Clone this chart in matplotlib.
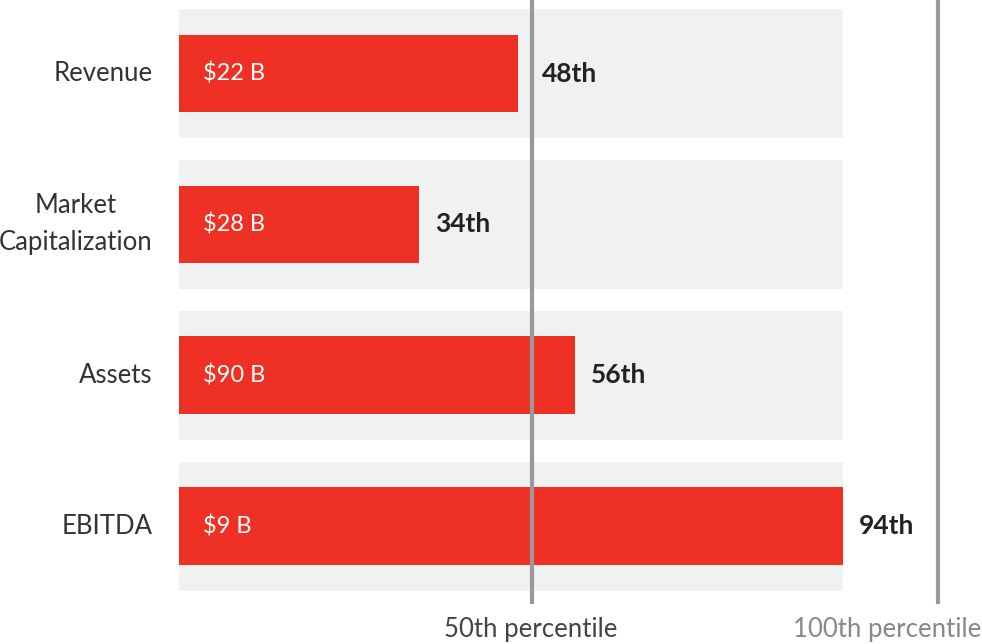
import matplotlib
matplotlib.use("Agg")
import matplotlib.pyplot as plt

categories = ["Revenue", "Market\nCapitalization", "Assets", "EBITDA"]
percentiles = [48, 34, 56, 94]
value_labels = ["$22 B", "$28 B", "$90 B", "$9 B"]
rank_labels = ["48th", "34th", "56th", "94th"]
ref_labels = ["50th percentile", "100th percentile"]

RED = "#ee3124"
BAND = "#f0f1f1"
LINE = "#999999"
TXT = "#333333"

plt.rcParams['font.family'] = ['Lato', 'DejaVu Sans']

fig = plt.figure(figsize=(9.82, 6.44), dpi=100)
ax = fig.add_axes([179/982, 1 - 604/644, 1 - 179/982, 604/644])

band_max = max(percentiles)
xmax = (982 - 179) / (843 - 179) * band_max
ax.set_xlim(0, xmax)
ax.set_ylim(3.515, -0.487)

ys = list(range(len(categories)))
ax.barh(ys, [band_max] * len(ys), height=0.855, color=BAND, zorder=1)
ax.barh(ys, percentiles, height=0.515, color=RED, zorder=2)

line50 = 50
line100 = (938 - 179) / (843 - 179) * band_max
for xv in (line50, line100):
    ax.axvline(xv, color=LINE, lw=3, zorder=3)

for y, p, v, r in zip(ys, percentiles, value_labels, rank_labels):
    ax.text(3.4, y, v, color="white", fontsize=17, fontweight="normal",
            va="center", ha="left", zorder=4)
    xr = p + 2.3
    if p < line50 < p + 10:
        xr = line50 + 1.4
    ax.text(xr, y, r, color="#222222", fontsize=19, fontweight="bold",
            va="center", ha="left", zorder=4)

ax.set_yticks(ys)
ax.set_yticklabels(categories, fontsize=18.5, color=TXT, fontweight="normal",
                   linespacing=1.6, multialignment="center")
for lab in ax.get_yticklabels():
    lab.set_va("center")
ax.tick_params(axis="y", length=0, pad=19)
ax.set_xticks([])
for s in ax.spines.values():
    s.set_visible(False)

fig.text(531/982, 1 - 630/644, ref_labels[0], ha="center", va="center",
         fontsize=18.5, color="#444444", fontweight="normal")
fig.text(981/982, 1 - 630/644, ref_labels[1], ha="right", va="center",
         fontsize=18.5, color="#888888", fontweight="normal")

fig.savefig("out.png", dpi=100, facecolor="white")
